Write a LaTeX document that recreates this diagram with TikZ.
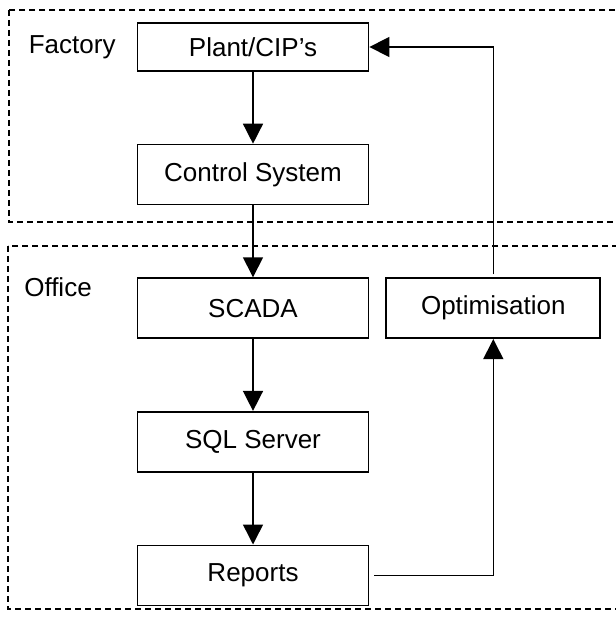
\documentclass[tikz,border=0pt]{standalone}
\usepackage{fontspec}
\setmainfont{Liberation Sans}
\usetikzlibrary{arrows.meta,positioning}

\begin{document}
\begin{tikzpicture}[
  x=0.5pt,y=-0.5pt,
  node distance=35.9pt,
  box/.style={rectangle,draw,line width=0.9pt,minimum width=115.5pt,minimum height=30pt,
              text centered,font=\fontsize{13}{15}\selectfont},
  lbl/.style={font=\fontsize{13}{15}\selectfont},
  zone/.style={dash pattern=on 3pt off 2pt,line width=0.75pt},
  arr/.style={-{Triangle[length=10pt,width=10pt]},line width=0.75pt}]
  \useasboundingbox (0,0) rectangle (615,619);
  % factory and office areas
  \draw[zone] (9,10) rectangle (625,222);
  \draw[zone] (8,246) rectangle (625,609);
  \node[box,minimum height=24pt] (plant) at (253,47) {Plant/CIP's};
  \node[box,below=of plant]  (ctrl){Control System};
  \node[box,below=of ctrl]   (scada){SCADA};
  \node[box,below=of scada]  (sql){SQL Server};
  \node[box,below=of sql]    (reports){Reports};
  \node[box,minimum width=107pt,right=8pt of scada](optim){Optimisation};
  \node[lbl,left=7pt of plant](factory){Factory};
  \node[lbl] (office) at (58,287) {Office};
  \draw[arr](plant)--(ctrl);\draw[arr](ctrl)--(scada);
  \draw[arr](scada)--(sql);\draw[arr](sql)--(reports);
  % feedback loop
  \draw[arr,shorten <=2.5pt](reports.east)-|(optim.south);
  \draw[arr,shorten <=1.5pt](optim.north)|-(plant.east);
\end{tikzpicture}
\end{document}
